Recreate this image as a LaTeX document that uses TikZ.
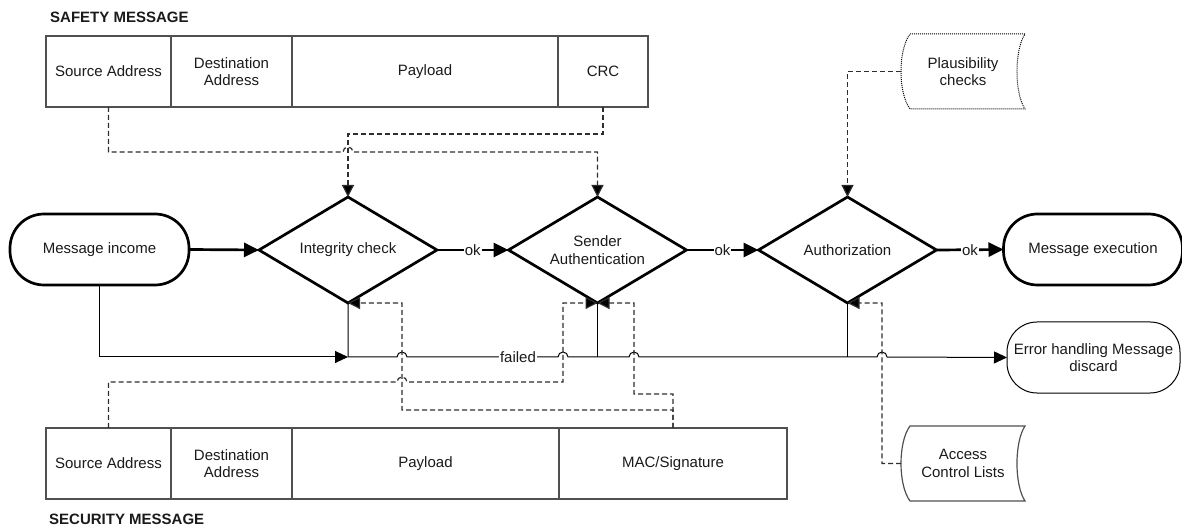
\documentclass[tikz,border=0pt]{standalone}
\usepackage{fontspec}
\setmainfont{Liberation Sans}
\usetikzlibrary{shapes.geometric,arrows.meta}
\definecolor{txtc}{HTML}{1A1A1A}
\definecolor{boxc}{HTML}{505050}
\definecolor{dashc}{HTML}{2E2E2E}
\begin{document}
\begin{tikzpicture}[x=1bp,y=-1bp,
  font=\fontsize{15bp}{17.5bp}\selectfont, text=txtc,
  cell/.style={draw=boxc, line width=1.2bp, inner sep=0pt, outer sep=0pt, minimum height=71bp, align=center},
  dia/.style={diamond, draw=black, line width=2.7bp, inner sep=0pt, outer sep=0pt, minimum width=178bp, minimum height=106bp},
  term/.style={draw=black, line width=2.7bp, rounded corners=34bp, minimum width=179bp, minimum height=71bp, inner sep=0pt, outer sep=0pt},
  errbox/.style={draw=black, line width=1bp, rounded corners=30bp, minimum width=173bp, minimum height=71bp, inner sep=0pt, outer sep=0pt, align=center},
  store/.style={minimum width=124bp, minimum height=75bp, inner sep=0pt, outer sep=0pt, align=center},
  flow/.style={line width=2.7bp, -{Triangle[length=15bp,width=14bp]}},
  fail/.style={line width=1bp, draw=black},
  failarr/.style={fail, -{Triangle[length=13bp,width=12bp]}},
  ref/.style={draw=dashc, dash pattern=on 5bp off 3bp, line width=1.2bp},
  refarr/.style={ref, -{Triangle[length=12bp,width=12bp,fill=black]}},
  oklab/.style={fill=white, inner sep=1bp, text=txtc},
  hdr/.style={font=\fontsize{15bp}{17.5bp}\selectfont\bfseries, anchor=west, inner sep=0pt}
]
\useasboundingbox (0,0) rectangle (1182,526);

% headers
\node[hdr] (hsafe) at (50,17) {SAFETY MESSAGE};
\node[hdr] (hsec) at (49,519) {SECURITY MESSAGE};

% safety message table
\node[cell, minimum width=125bp] (ss) at (108.5,71.5) {Source Address};
\node[cell, minimum width=121bp] (sd) at (231.5,71.5) {Destination\\Address};
\node[cell, minimum width=266bp] (sp) at (425,71.5) {Payload};
\node[cell, minimum width=90bp] (crc) at (603,71.5) {CRC};

% security message table
\node[cell, minimum width=125bp] (ts) at (108.5,463.5) {Source Address};
\node[cell, minimum width=121bp] (td) at (231.5,463.5) {Destination\\Address};
\node[cell, minimum width=267bp] (tp) at (425.5,463.5) {Payload};
\node[cell, minimum width=228bp] (mac) at (673,463.5) {MAC/Signature};

% main flow
\node[term] (mi) at (99.5,249.5) {Message income};
\node[dia, label={[align=center]center:Integrity check}] (ic) at (348,250) {};
\node[dia, label={[align=center]center:Sender\\Authentication}] (sa) at (597.5,250) {};
\node[dia, label={[align=center]center:Authorization}] (au) at (847.5,250) {};
\node[term] (me) at (1093,249.5) {Message execution};
\node[errbox] (err) at (1093.5,357.5) {Error handling Message\\discard};

% stored data shapes
\node[store] (pc) at (963,71.5) {Plausibility\\checks};
\draw[draw=black, line width=1bp, dash pattern=on 1bp off 1bp] (910,34) -- (1025,34) .. controls (1014.3,50) and (1014.3,93) .. (1025,109) -- (910,109) .. controls (898,93) and (898,50) .. (910,34) -- cycle;
\node[store] (acl) at (963,463.5) {Access\\Control Lists};
\draw[draw=boxc, line width=1.2bp] (910,426) -- (1025,426) .. controls (1014.3,442) and (1014.3,485) .. (1025,501) -- (910,501) .. controls (898,485) and (898,442) .. (910,426) -- cycle;

% flow arrows
\draw[flow] (mi.east) -- (ic.west);
\draw[flow] (ic.east) -- node[oklab]{ok} (sa.west);
\draw[flow] (sa.east) -- node[oklab]{ok} (au.west);
\draw[flow] (au.east) -- node[oklab]{ok} (me.west);

% failed path
\coordinate (j1) at (348,357);
\draw[failarr] (mi.south) |- (j1);
\draw[failarr] (ic.south) -- (j1) -- (397,357) arc[start angle=180,end angle=0,radius=5bp]
  -- (518,357) node[oklab]{failed} -- (558,357) arc[start angle=180,end angle=0,radius=5bp]
  -- (629,357) arc[start angle=180,end angle=0,radius=5bp]
  -- (877,357) arc[start angle=180,end angle=0,radius=5bp] -- (err.west);
\draw[fail] (sa.south) -- (597.5,357);
\draw[fail] (au.south) -- (847.5,357);

% reference (dashed) connectors, top
\draw[refarr] (crc.south) -- (603,134) -| (ic.north);
\draw[refarr] (ss.south) |- (343,152) arc[start angle=180,end angle=0,radius=5bp] -| (sa.north);
\draw[refarr] (pc.west) -| (au.north);

% reference (dashed) connectors, bottom
\draw[refarr] (ts.north) |- (397,382) arc[start angle=180,end angle=0,radius=5bp] -| (563,303) -- (sa.south);
\draw[refarr] (mac.north) |- (402,410) -- (402,303) -- (ic.south);
\draw[refarr] (mac.north) |- (634,394) -- (634,303) -- (sa.south);
\draw[refarr] (acl.west) -| (882,303) -- (au.south);
\end{tikzpicture}
\end{document}
